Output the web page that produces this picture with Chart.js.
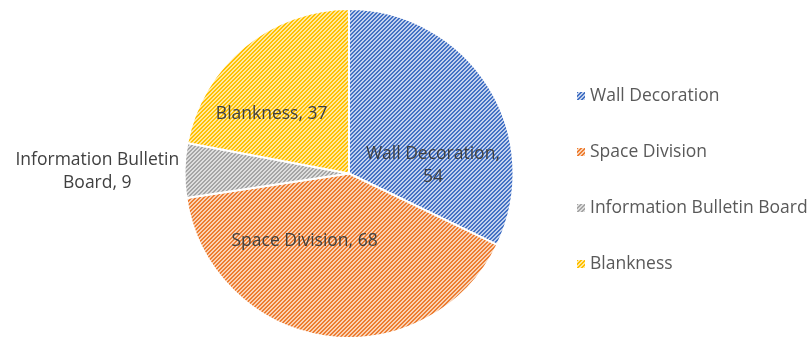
<!DOCTYPE html>
<html>
<head>
<meta charset="utf-8">
<script src="https://cdn.jsdelivr.net/npm/chart.js@4.4.1/dist/chart.umd.min.js"></script>
<style>
  html, body { margin: 0; padding: 0; background: #fff; }
  #wrap { width: 808px; height: 340px; position: relative; }
</style>
</head>
<body>
<div id="wrap"><canvas id="myChartPie"></canvas></div>
<script>
const categories = ['Wall Decoration', 'Space Division', 'Information Bulletin Board', 'Blankness'];
const values = [54, 68, 9, 37];
const darkColors = ['#4472C4', '#ED7D31', '#A5A5A5', '#FFC000'];
const lightColors = ['#c3d1ed', '#f9d2b6', '#dedede', '#ffe8a0'];
// label text split into lines, as in the original
const labelLines = [['Wall Decoration,', '54'], ['Space Division, 68'], ['Information Bulletin', 'Board, 9'], ['Blankness, 37']];
// label anchor relative to pie centre, in radii
const labelAnchors = [[0.51, -0.05], [-0.27, 0.41], [-1.53, -0.01], [-0.47, -0.36]];

function makeHatch(dark, light) {
    const c = document.createElement('canvas');
    c.width = 4; c.height = 4;
    const g = c.getContext('2d');
    g.fillStyle = light;
    g.fillRect(0, 0, 4, 4);
    g.fillStyle = dark;
    for (let x = 0; x < 4; x++) {
        for (let y = 0; y < 4; y++) {
            if ((x + y) % 4 === 0 || (x + y) % 4 === 1) g.fillRect(x, y, 1, 1);
        }
    }
    return g.createPattern(c, 'repeat');
}

const patterns = darkColors.map((d, i) => makeHatch(d, lightColors[i]));
const FONT = '17.5px "Open Sans", sans-serif';

const sliceLabels = {
    id: 'sliceLabels',
    afterDatasetsDraw(chart) {
        const ctx = chart.ctx;
        const arcs = chart.getDatasetMeta(0).data;
        ctx.save();
        ctx.font = FONT;
        ctx.fillStyle = '#404040';
        ctx.textAlign = 'center';
        ctx.textBaseline = 'middle';
        arcs.forEach((arc, i) => {
            const r = arc.outerRadius;
            const x = arc.x + labelAnchors[i][0] * r;
            const y = arc.y + labelAnchors[i][1] * r;
            const lines = labelLines[i];
            const lh = 23;
            lines.forEach((t, k) => {
                ctx.fillText(t, x, y + (k - (lines.length - 1) / 2) * lh);
            });
        });
        ctx.restore();
    }
};

const sideLegend = {
    id: 'sideLegend',
    afterDraw(chart) {
        const ctx = chart.ctx;
        ctx.save();
        ctx.font = FONT;
        ctx.textBaseline = 'middle';
        categories.forEach((name, i) => {
            const y = 96 + i * 56;
            ctx.fillStyle = patterns[i];
            ctx.fillRect(577, y - 4, 8, 8);
            ctx.fillStyle = '#595959';
            ctx.fillText(name, 590, y);
        });
        ctx.restore();
    }
};

const ctx = document.getElementById('myChartPie').getContext('2d');
new Chart(ctx, {
    type: 'pie',
    data: {
        labels: categories,
        datasets: [{
            data: values,
            backgroundColor: patterns,
            borderColor: '#ffffff',
            borderWidth: 2
        }]
    },
    options: {
        responsive: true,
        maintainAspectRatio: false,
        animation: false,
        layout: { padding: { left: 183, right: 293, top: 8, bottom: 1 } },
        plugins: {
            legend: { display: false },
            tooltip: { enabled: false }
        }
    },
    plugins: [sliceLabels, sideLegend]
});
</script>
</body>
</html>
